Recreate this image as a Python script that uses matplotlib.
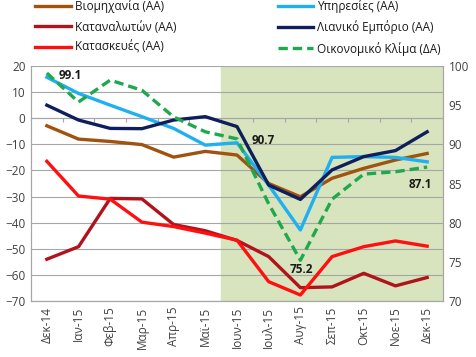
import matplotlib
matplotlib.use("Agg")
import matplotlib.pyplot as plt
import numpy as np

plt.rcParams['font.family'] = ['Open Sans', 'Noto Sans', 'DejaVu Sans']

months = ['Δεκ-14', 'Ιαν-15', 'Φεβ-15', 'Μαρ-15', 'Απρ-15', 'Μαϊ-15', 'Ιουν-15',
          'Ιουλ-15', 'Αυγ-15', 'Σεπ-15', 'Οκτ-15', 'Νοε-15', 'Δεκ-15']

industry = [-2.9, -8.0, -8.9, -10.1, -14.9, -12.7, -14.1, -25.0, -30.1, -23.0, -19.2, -16.0, -13.5]
services = [15.7, 9.5, 5.0, 0.6, -3.9, -10.3, -9.4, -25.6, -42.8, -15.0, -14.7, -15.0, -16.7]
retail = [5.0, -0.7, -3.9, -4.0, -0.7, 0.6, -3.2, -25.6, -31.1, -19.8, -14.7, -12.4, -5.2]
consumers = [-54.0, -49.2, -30.7, -30.9, -40.7, -43.1, -46.8, -53.0, -64.9, -64.6, -59.4, -64.2, -61.0]
construction = [-16.5, -29.8, -31.0, -39.8, -41.5, -44.0, -46.7, -62.6, -67.7, -53.0, -49.2, -47.0, -49.0]
climate = [99.1, 95.4, 98.2, 96.9, 93.5, 91.6, 90.7, 82.4, 75.2, 83.0, 86.2, 86.5, 87.1]

labels_series = ['Βιομηχανία (ΑΑ)', 'Καταναλωτών (ΑΑ)', 'Κατασκευές (ΑΑ)',
                 'Υπηρεσίες (ΑΑ)', 'Λιανικό Εμπόριο (ΑΑ)', 'Οικονομικό Κλίμα (ΔΑ)']
annot_idx = [0, 6, 8, 12]

fig = plt.figure(figsize=(4.77, 3.57), dpi=100)
ax = fig.add_axes([31/477, 56/357, 412/477, 235/357])
ax2 = ax.twinx()

x = np.arange(len(months))
ax.axvspan(5.5, 12.5, color='#d7e4bd', zorder=0)

ax.set_xlim(-0.5, 12.5)
ax.set_ylim(-70, 20)
ax.set_yticks(np.arange(-70, 21, 10))
ax.yaxis.grid(True, color='#a6a6a6', lw=0.8)
ax.set_axisbelow(True)
ax.axhline(0, color='#a6a6a6', lw=0.8, zorder=1)
ax.vlines(np.arange(0.5, 12.5, 1), 0, -1.5, color='#a6a6a6', lw=0.8, zorder=1)

lw = 2.4
l1, = ax.plot(x, industry, color='#a0520f', lw=lw, zorder=3)
l2, = ax.plot(x, services, color='#1eb0f0', lw=lw, zorder=3)
l3, = ax.plot(x, consumers, color='#b0131b', lw=lw, zorder=3)
l4, = ax.plot(x, retail, color='#0e1f5b', lw=lw, zorder=3)
l5, = ax.plot(x, construction, color='#ff1010', lw=lw, zorder=3)
l6, = ax2.plot(x, climate, color='#1fa84d', lw=lw, ls=(0, (2.8, 1.5)), zorder=3)

ax2.set_ylim(70, 100)
ax2.set_yticks(np.arange(70, 101, 5))

ax.set_xticks(x)
ax.set_xticklabels(months, rotation=90, fontsize=8.5, color='#404040')
for a in (ax, ax2):
    a.tick_params(axis='y', length=0, labelsize=8.5, colors='#404040', pad=4)
    a.spines['top'].set_visible(False)
    for s in ['left', 'right', 'bottom']:
        a.spines[s].set_color('#a6a6a6')
ax.tick_params(axis='x', length=0, pad=4)

offsets = {0: (17, -1.5), 6: (19, -1), 8: (1, -7), 12: (-5, -12.5)}
for i in annot_idx:
    dx, dy = offsets[i]
    ax2.annotate(f'{climate[i]:.1f}', (x[i], climate[i]), xytext=(dx, dy),
                 textcoords='offset points', ha='center', va='center',
                 fontsize=8.5, fontweight='bold', color='#1a1a1a', zorder=5)

leg = fig.legend([l1, l3, l5, l2, l4, l6], labels_series, ncol=2,
                 loc='upper left', bbox_to_anchor=(34/477, 1.005), frameon=False,
                 fontsize=8.5, handlelength=3.0, handletextpad=0.35,
                 columnspacing=8.6, labelspacing=0.62, borderaxespad=0.0,
                 borderpad=0.1)
for t in leg.get_texts():
    t.set_color('#1a1a1a')

fig.savefig('out.png', dpi=100)
